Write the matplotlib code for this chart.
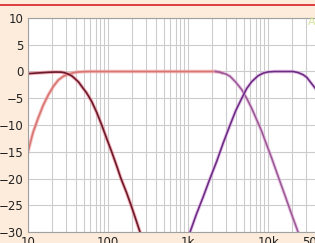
import numpy as np
import matplotlib
matplotlib.use("Agg")
import matplotlib.pyplot as plt

# ---- donnees (Hz, dB) ----
woofer_f = [10, 14, 18, 22, 26, 29, 32, 35.5, 39, 43, 47, 54, 62.5, 72, 83.4, 96, 111,
            128, 145, 170, 194, 222, 251, 320]
woofer_db = [-0.4, -0.25, -0.15, -0.1, -0.12, -0.25, -0.5, -0.85, -1.4, -2.0, -2.8, -4.0,
             -5.6, -7.6, -10, -12.5, -15, -17.6, -20, -22.6, -25, -27.6, -30, -35]

mid_lo_f = [10, 11.5, 13.4, 15.5, 17.9, 20.7, 23.9, 27.6, 31.9, 36.5, 42, 50, 60,
            200, 1000, 2200, 2450, 2650]
mid_lo_db = [-15, -11.5, -8.7, -6.3, -4.4, -2.8, -1.6, -0.9, -0.5, -0.25, -0.1, -0.03, 0,
             0, 0, 0, -0.1, -0.25]

mid_hi_f = [2200, 2450, 2650, 3000, 3350, 3950, 4690, 5400, 6250, 7200, 8340, 9600,
            11100, 13500, 16300, 19700, 23700, 29000]
mid_hi_db = [0, -0.1, -0.25, -0.5, -0.9, -2.0, -3.4, -5.0, -6.9, -9.0, -11.2, -13.7,
             -16.2, -19.8, -23.2, -26.7, -30, -34]

tw_f = [800, 1060, 1270, 1540, 1870, 2280, 2760, 3350, 3950, 4690, 5400, 6250, 7500,
        8730, 10000, 12000, 15000, 20500, 23700, 27400, 30500, 33500, 38700, 44000, 50000]
tw_db = [-36, -30, -26.7, -23.5, -20.1, -16.8, -13.3, -10, -7.3, -5, -3.2, -1.9, -0.8,
         -0.3, -0.08, 0, 0, 0, -0.2, -0.6, -1.1, -1.9, -3.1, -4.3, -5.5]

yticks = [10, 5, 0, -5, -10, -15, -20, -25, -30]
xticks = [10, 100, 1000, 10000, 50000]
xlabels = ["10", "100", "1k", "10k", "50k"]

# ---- figure ----
fig = plt.figure(figsize=(3.15, 2.43), dpi=100)
fig.patch.set_facecolor("#fdecdb")

# bandeau rouge en haut
fig.add_artist(plt.Line2D([0, 1], [1 - 5.5 / 243, 1 - 5.5 / 243], color="#d71f26", lw=1.2))
fig.text(308 / 315, 1 - 27 / 243, "A", color="#d8e39c", fontsize=8, ha="left", va="bottom")

ax = fig.add_axes([28 / 315, 11 / 243, 296 / 315, 214 / 243])
ax.set_facecolor("white")
ax.set_xscale("log")
ax.set_xlim(10, 50000)
ax.set_ylim(-30, 10)

ax.set_yticks(yticks)
ax.set_xticks(xticks)
ax.set_xticklabels(xlabels)
ax.tick_params(length=0, labelsize=8.5, colors="#222222", pad=3)
ax.get_xticklabels()[-1].set_ha("right")

ax.grid(True, which="both", axis="x", color="#cccccc", lw=0.8)
ax.grid(True, which="major", axis="y", color="#cccccc", lw=0.8)
ax.minorticks_on()
ax.tick_params(which="minor", length=0)
ax.yaxis.set_minor_locator(matplotlib.ticker.NullLocator())
ax.xaxis.set_minor_formatter(matplotlib.ticker.NullFormatter())
for s in ax.spines.values():
    s.set_color("#a0a0a0")
    s.set_linewidth(0.8)

# courbes (halo clair + trait)
ax.plot(mid_lo_f, mid_lo_db, color="#f0a0a0", lw=2.6, alpha=0.6)
ax.plot(mid_lo_f, mid_lo_db, color="#d97572", lw=1.2)
ax.plot(mid_hi_f, mid_hi_db, color="#e0b0d8", lw=2.6, alpha=0.6)
ax.plot(mid_hi_f, mid_hi_db, color="#9e5a98", lw=1.2)
ax.plot(tw_f, tw_db, color="#d8a8e0", lw=2.6, alpha=0.6)
ax.plot(tw_f, tw_db, color="#6e2c84", lw=1.2)
ax.plot(woofer_f, woofer_db, color="#ee8090", lw=2.6, alpha=0.6)
ax.plot(woofer_f, woofer_db, color="#6a1a2a", lw=1.2)

fig.savefig("out.png", dpi=100, facecolor=fig.get_facecolor())
